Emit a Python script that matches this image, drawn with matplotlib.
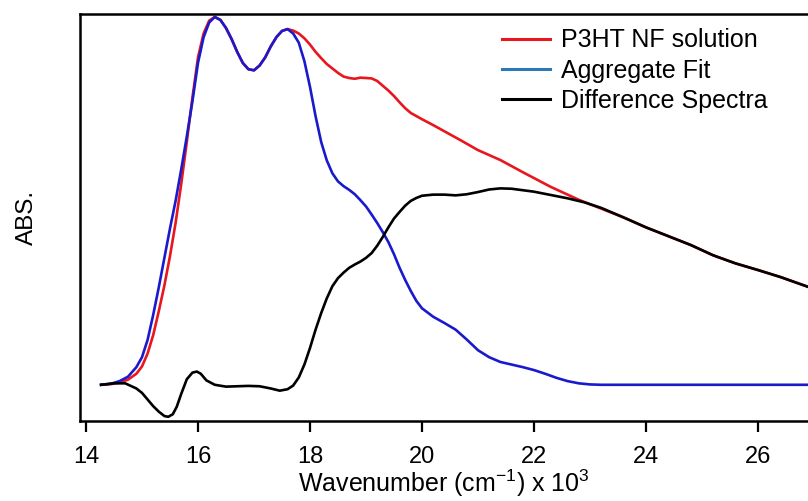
import numpy as np
import matplotlib.pyplot as plt
from matplotlib.lines import Line2D

plt.rcParams['font.family'] = ['Liberation Sans', 'DejaVu Sans']
plt.rcParams['mathtext.fontset'] = 'custom'
plt.rcParams['mathtext.rm'] = 'Liberation Sans'
plt.rcParams['mathtext.it'] = 'Liberation Sans'

# Espectros (numero de onda em 10^3 cm-1, absorbancia normalizada)
wn_fit = [14.27, 14.45, 14.6, 14.75, 14.9, 15.0, 15.1, 15.2, 15.3, 15.4, 15.5, 15.6,
          15.7, 15.8, 15.9, 16.0, 16.1, 16.2, 16.3, 16.4, 16.5, 16.6, 16.7, 16.8, 16.9,
          17.0, 17.1, 17.2, 17.3, 17.4, 17.5, 17.6, 17.7, 17.8, 17.9, 18.0, 18.1, 18.2,
          18.3, 18.4, 18.5, 18.6, 18.7, 18.8, 18.9, 19.0, 19.1, 19.2, 19.3, 19.4, 19.5,
          19.6, 19.7, 19.8, 19.9, 20.0, 20.2, 20.4, 20.6, 20.8, 21.0, 21.2, 21.4, 21.6,
          21.8, 22.0, 22.2, 22.4, 22.6, 22.8, 23.0, 23.2, 26.9]
abs_fit = [0.0, 0.003, 0.01, 0.022, 0.048, 0.075, 0.122, 0.19, 0.265, 0.345, 0.425, 0.5,
           0.585, 0.675, 0.77, 0.875, 0.945, 0.985, 1.0, 0.992, 0.97, 0.94, 0.905, 0.875,
           0.858, 0.855, 0.868, 0.89, 0.92, 0.945, 0.962, 0.967, 0.955, 0.93, 0.88, 0.81,
           0.73, 0.66, 0.61, 0.575, 0.553, 0.54, 0.53, 0.518, 0.502, 0.485, 0.463, 0.44,
           0.415, 0.388, 0.355, 0.318, 0.285, 0.255, 0.228, 0.208, 0.185, 0.168, 0.15,
           0.123, 0.094, 0.075, 0.062, 0.055, 0.048, 0.04, 0.03, 0.019, 0.01, 0.004,
           0.001, 0.0, 0.0]

wn_sol = [14.27, 14.45, 14.6, 14.75, 14.9, 15.0, 15.1, 15.2, 15.3, 15.4, 15.5, 15.6,
          15.7, 15.8, 15.9, 16.0, 16.1, 16.2, 16.3, 16.4, 16.5, 16.6, 16.7, 16.8, 16.9,
          17.0, 17.1, 17.2, 17.3, 17.4, 17.5, 17.6, 17.7, 17.8, 17.9, 18.0, 18.1, 18.2,
          18.3, 18.4, 18.5, 18.6, 18.7, 18.8, 18.9, 19.0, 19.1, 19.2, 19.3, 19.4, 19.5,
          19.6, 19.7, 19.8, 20.0, 20.2, 20.45, 20.7, 21.0, 21.4, 21.8, 22.3, 22.8, 23.2,
          23.6, 24.0, 24.4, 24.8, 25.2, 25.6, 26.0, 26.4, 26.9]
abs_sol = [0.0, 0.002, 0.006, 0.014, 0.03, 0.05, 0.085, 0.135, 0.2, 0.27, 0.35, 0.44,
           0.545, 0.66, 0.78, 0.89, 0.955, 0.99, 1.0, 0.992, 0.97, 0.94, 0.905, 0.875,
           0.858, 0.855, 0.868, 0.89, 0.92, 0.945, 0.962, 0.967, 0.963, 0.955, 0.942,
           0.925, 0.905, 0.888, 0.872, 0.86, 0.848, 0.838, 0.834, 0.832, 0.835, 0.834,
           0.833, 0.826, 0.813, 0.80, 0.785, 0.768, 0.752, 0.739, 0.722, 0.706, 0.685,
           0.664, 0.638, 0.611, 0.578, 0.538, 0.503, 0.479, 0.455, 0.428, 0.404, 0.38,
           0.352, 0.33, 0.312, 0.293, 0.266]

wn_diff = [14.27, 14.5, 14.7, 14.9, 15.0, 15.1, 15.2, 15.3, 15.4, 15.47, 15.55, 15.62,
           15.7, 15.8, 15.9, 15.98, 16.05, 16.15, 16.3, 16.5, 16.7, 16.9, 17.1, 17.3,
           17.46, 17.6, 17.7, 17.8, 17.9, 18.0, 18.1, 18.2, 18.3, 18.4, 18.5, 18.6, 18.7,
           18.8, 18.9, 19.0, 19.1, 19.2, 19.3, 19.4, 19.5, 19.6, 19.7, 19.8, 19.9, 20.0,
           20.2, 20.4, 20.6, 20.8, 21.0, 21.2, 21.4, 21.6, 21.8, 22.0, 22.3, 22.6, 22.9,
           23.2, 23.6, 24.0, 24.4, 24.8, 25.2, 25.6, 26.0, 26.4, 26.9]
abs_diff = [0.0, 0.004, 0.004, -0.01, -0.022, -0.04, -0.058, -0.073, -0.085, -0.087,
            -0.08, -0.06, -0.025, 0.015, 0.033, 0.036, 0.03, 0.012, 0.0, -0.005, -0.004,
            -0.003, -0.004, -0.01, -0.016, -0.012, -0.002, 0.02, 0.055, 0.1, 0.15, 0.195,
            0.235, 0.268, 0.29, 0.305, 0.318, 0.327, 0.335, 0.345, 0.358, 0.378, 0.402,
            0.428, 0.452, 0.47, 0.487, 0.5, 0.508, 0.514, 0.517, 0.517, 0.515, 0.518,
            0.524, 0.531, 0.534, 0.533, 0.529, 0.525, 0.516, 0.507, 0.496, 0.481, 0.455,
            0.428, 0.404, 0.38, 0.352, 0.33, 0.312, 0.293, 0.266]

fig = plt.figure(figsize=(8.08, 5.01), dpi=100)
ax = fig.add_axes([0.099, 0.16, 0.901, 0.812])

ax.plot(wn_sol, abs_sol, color='#e8161e', lw=1.9)
ax.plot(wn_fit, abs_fit, color='#1a1acd', lw=1.9)
ax.plot(wn_diff, abs_diff, color='black', lw=1.9)

ax.set_xlim(13.893, 26.893)
ax.set_ylim(-0.098, 1.008)
ax.set_xticks(np.arange(14, 27, 2))
ax.set_yticks([])
ax.tick_params(axis='x', direction='out', length=8, width=1.6, labelsize=17, pad=10)
ax.spines['right'].set_visible(False)
for s in ['left', 'top', 'bottom']:
    ax.spines[s].set_linewidth(1.8)

ax.set_xlabel('Wavenumber (cm$^{-1}$) x 10$^{3}$', fontsize=18, labelpad=0)
ax.set_ylabel('ABS.', fontsize=17.5, labelpad=30)

handles = [Line2D([], [], color='#e8161e', lw=2.2),
           Line2D([], [], color='#2a7ab8', lw=2.2),
           Line2D([], [], color='black', lw=2.2)]
ax.legend(handles, ['P3HT NF solution', 'Aggregate Fit', 'Difference Spectra'],
          loc='upper left', bbox_to_anchor=(0.58, 0.965), frameon=False, fontsize=18,
          handlelength=1.92, handletextpad=0.44, labelspacing=0.25, borderaxespad=0,
          borderpad=0)

fig.savefig('out.png', dpi=100)
